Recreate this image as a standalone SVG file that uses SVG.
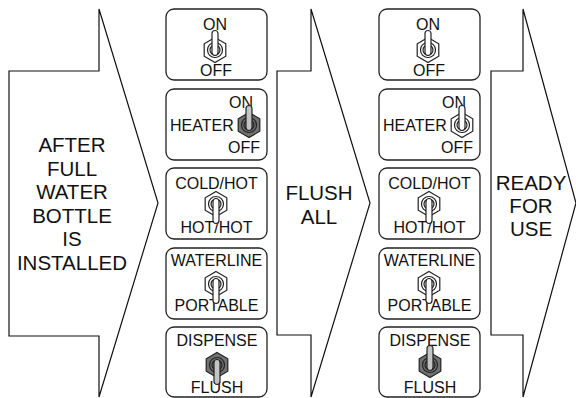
<svg xmlns="http://www.w3.org/2000/svg" xmlns:xlink="http://www.w3.org/1999/xlink" width="576" height="398" viewBox="0 0 576 398">
<style>
.arrow{fill:#fff;stroke:#111;stroke-width:1.2;stroke-linejoin:miter}
.box{fill:#fff;stroke:#222;stroke-width:1.3}
.big{font-family:"Liberation Sans",Arial,sans-serif;font-size:20.5px;fill:#111;text-anchor:middle}
.lbl{font-family:"Liberation Sans",Arial,sans-serif;font-size:16px;fill:#111;text-anchor:middle}
.end{text-anchor:end}
.start{text-anchor:start}
.sw{stroke:#222;stroke-width:1.2}
.w{fill:#fff}
.g{fill:#727272}
.lw{fill:#fff}
.lg{fill:#c4c4c4}
</style>
<defs>
<g id="body">
<polygon points="0,-12.5 10.8,-6.25 10.8,6.25 0,12.5 -10.8,6.25 -10.8,-6.25"/>
<circle r="7.5"/>
<circle r="5"/>
</g>
<path id="lever" d="M-3,2.5 L-3,-16.5 A3,3 0 0 1 3,-16.5 L3,2.5 A3,3 0 0 1 -3,2.5 Z"/>
</defs>

<g id="connectors">
<polygon id="arrow1" class="arrow" points="9,71 99,71 99,9 158,203 99,397 99,336 9,336"/>
<polygon id="arrow2" class="arrow" points="277,71 311,71 311,9 370,203 311,397 311,335 277,335"/>
<polygon id="arrow3" class="arrow" points="491,71 523,71 523,9 576,203 523,397 523,335 491,335"/>
</g>

<g id="label-after">
<text class="big" x="72" y="152">AFTER</text>
<text class="big" x="72" y="175.5">FULL</text>
<text class="big" x="72" y="199">WATER</text>
<text class="big" x="72" y="222.5">BOTTLE</text>
<text class="big" x="72" y="246">IS</text>
<text class="big" x="72" y="270">INSTALLED</text>
</g>
<g id="label-flush">
<text class="big" x="319" y="200">FLUSH</text>
<text class="big" x="319" y="223.5">ALL</text>
</g>
<g id="label-ready">
<text class="big" x="531" y="190">READY</text>
<text class="big" x="531" y="213">FOR</text>
<text class="big" x="531" y="236">USE</text>
</g>

<g id="col1">
<g id="c1-power">
<rect class="box" x="166" y="9" width="101" height="71" rx="8"/>
<text class="lbl" x="215" y="30">ON</text>
<text class="lbl" x="216" y="75.5">OFF</text>
<g transform="translate(215,50)" class="sw"><use xlink:href="#body" class="w"/><use xlink:href="#lever" class="lw"/></g>
</g>
<g id="c1-heater">
<rect class="box" x="166" y="89" width="101" height="71" rx="8"/>
<text class="lbl start" x="170" y="131">HEATER</text>
<text class="lbl end" x="253" y="108">ON</text>
<text class="lbl end" x="260" y="153">OFF</text>
<g transform="translate(249,125)" class="sw"><use xlink:href="#body" class="g"/><use xlink:href="#lever" class="lg"/></g>
</g>
<g id="c1-coldhot">
<rect class="box" x="166" y="168" width="101" height="71" rx="8"/>
<text class="lbl" x="216.5" y="189">COLD/HOT</text>
<text class="lbl" x="216.5" y="233">HOT/HOT</text>
<g transform="translate(216,204)" class="sw"><use xlink:href="#body" class="w"/><use xlink:href="#lever" class="lw" transform="rotate(180)"/></g>
</g>
<g id="c1-waterline">
<rect class="box" x="166" y="248" width="101" height="71" rx="8"/>
<text class="lbl" x="216.5" y="266">WATERLINE</text>
<text class="lbl" x="216.5" y="311">PORTABLE</text>
<g transform="translate(216,284)" class="sw"><use xlink:href="#body" class="w"/><use xlink:href="#lever" class="lw" transform="rotate(180)"/></g>
</g>
<g id="c1-dispense">
<rect class="box" x="166" y="327" width="101" height="70" rx="8"/>
<text class="lbl" x="217" y="346">DISPENSE</text>
<text class="lbl" x="217" y="393">FLUSH</text>
<g transform="translate(217,365)" class="sw"><use xlink:href="#body" class="g"/><use xlink:href="#lever" class="lg" transform="rotate(180)"/></g>
</g>
</g>

<g id="col2">
<g id="c2-power">
<rect class="box" x="379" y="9" width="101" height="71" rx="8"/>
<text class="lbl" x="428" y="30">ON</text>
<text class="lbl" x="429" y="75.5">OFF</text>
<g transform="translate(428,50)" class="sw"><use xlink:href="#body" class="w"/><use xlink:href="#lever" class="lw"/></g>
</g>
<g id="c2-heater">
<rect class="box" x="379" y="89" width="101" height="71" rx="8"/>
<text class="lbl start" x="383" y="131">HEATER</text>
<text class="lbl end" x="466" y="108">ON</text>
<text class="lbl end" x="473" y="153">OFF</text>
<g transform="translate(462,125)" class="sw"><use xlink:href="#body" class="w"/><use xlink:href="#lever" class="lw"/></g>
</g>
<g id="c2-coldhot">
<rect class="box" x="379" y="168" width="101" height="71" rx="8"/>
<text class="lbl" x="429.5" y="189">COLD/HOT</text>
<text class="lbl" x="429.5" y="233">HOT/HOT</text>
<g transform="translate(429,204)" class="sw"><use xlink:href="#body" class="w"/><use xlink:href="#lever" class="lw" transform="rotate(180)"/></g>
</g>
<g id="c2-waterline">
<rect class="box" x="379" y="248" width="101" height="71" rx="8"/>
<text class="lbl" x="429.5" y="266">WATERLINE</text>
<text class="lbl" x="429.5" y="311">PORTABLE</text>
<g transform="translate(429,284)" class="sw"><use xlink:href="#body" class="w"/><use xlink:href="#lever" class="lw" transform="rotate(180)"/></g>
</g>
<g id="c2-dispense">
<rect class="box" x="379" y="327" width="101" height="70" rx="8"/>
<text class="lbl" x="430" y="346">DISPENSE</text>
<text class="lbl" x="430" y="393">FLUSH</text>
<g transform="translate(430,365)" class="sw"><use xlink:href="#body" class="g"/><use xlink:href="#lever" class="lg"/></g>
</g>
</g>
</svg>
